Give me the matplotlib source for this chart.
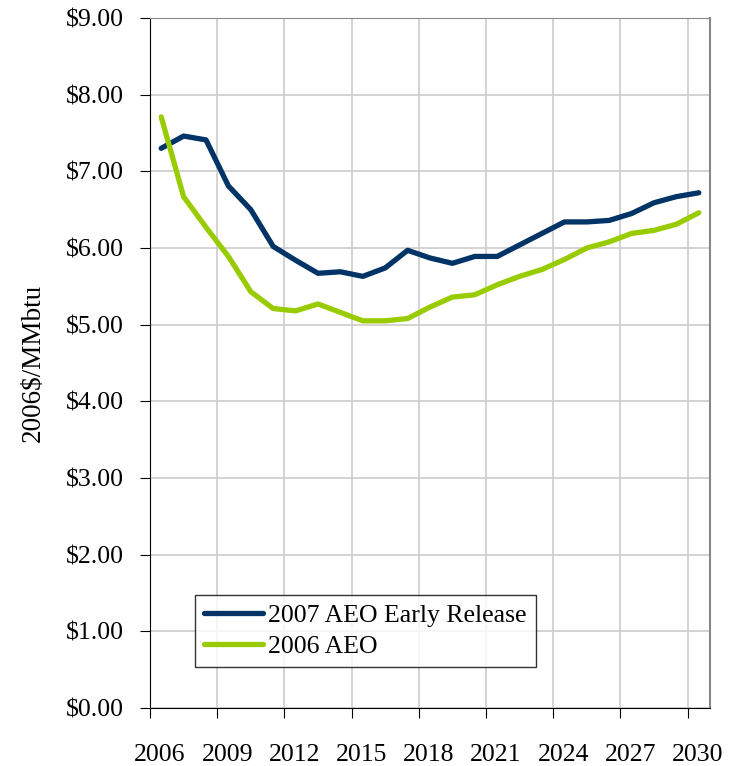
import numpy as np
import matplotlib
matplotlib.use('Agg')
import matplotlib.pyplot as plt
from matplotlib.transforms import ScaledTranslation

years = np.arange(2006, 2031)
aeo2007 = [7.30, 7.46, 7.41, 6.81, 6.50, 6.02, 5.84, 5.67, 5.69, 5.63, 5.74, 5.97, 5.87,
           5.80, 5.89, 5.89, 6.04, 6.19, 6.34, 6.34, 6.36, 6.45, 6.59, 6.67, 6.72]
aeo2006 = [7.71, 6.67, 6.27, 5.89, 5.43, 5.21, 5.18, 5.27, 5.16, 5.05, 5.05, 5.08, 5.23,
           5.36, 5.39, 5.52, 5.63, 5.72, 5.85, 6.00, 6.08, 6.19, 6.23, 6.31, 6.46]
tick_years = list(range(2006, 2031, 3))
yticks = np.arange(0, 10, 1)

plt.rcParams['font.family'] = ['Liberation Serif', 'DejaVu Serif']

fig = plt.figure(figsize=(7.36, 7.66), dpi=100)
ax = fig.add_axes([150/736, 58/766, 560/736, 690/766])

# categories sit in the middle of each year slot
x = years + 0.5
ax.plot(x, aeo2007, color='#003366', linewidth=3.8, label='2007 AEO Early Release',
        solid_capstyle='round', solid_joinstyle='round')
ax.plot(x, aeo2006, color='#99CC00', linewidth=3.8, label='2006 AEO',
        solid_capstyle='round', solid_joinstyle='round')

ax.set_xlim(2006, 2031)
ax.set_ylim(0, 9)
ax.set_xticks(tick_years)
ax.set_xticklabels([str(t) for t in tick_years])
ax.set_yticks(yticks)
ax.set_yticklabels(['$%.2f' % v for v in yticks])

ax.grid(True, color='#cccccc', linewidth=1.2)
ax.set_axisbelow(True)
ax.tick_params(axis='both', direction='out', length=7, color='black', labelsize=18.5)
ax.tick_params(axis='y', pad=12)
ax.tick_params(axis='x', pad=19)
for lbl in ax.get_xticklabels():
    lbl.set_transform(lbl.get_transform() + ScaledTranslation(10/100, 0, fig.dpi_scale_trans))

ax.spines['left'].set_color('black')
ax.spines['bottom'].set_color('black')
ax.spines['top'].set_color('#888888')
ax.spines['right'].set_color('#888888')
ax.spines['right'].set_linewidth(1.5)

ax.set_ylabel('2006$/MMbtu', fontsize=19.5, labelpad=14)

leg = ax.legend(loc='lower left', bbox_to_anchor=(0.08, 0.059), borderaxespad=0,
                fontsize=18.5, frameon=True, fancybox=False, handlelength=2.3,
                handletextpad=0.2, labelspacing=0.32, borderpad=0.35)
leg.get_frame().set_edgecolor('black')
leg.get_frame().set_linewidth(1.0)

plt.savefig('out.png', dpi=100)
